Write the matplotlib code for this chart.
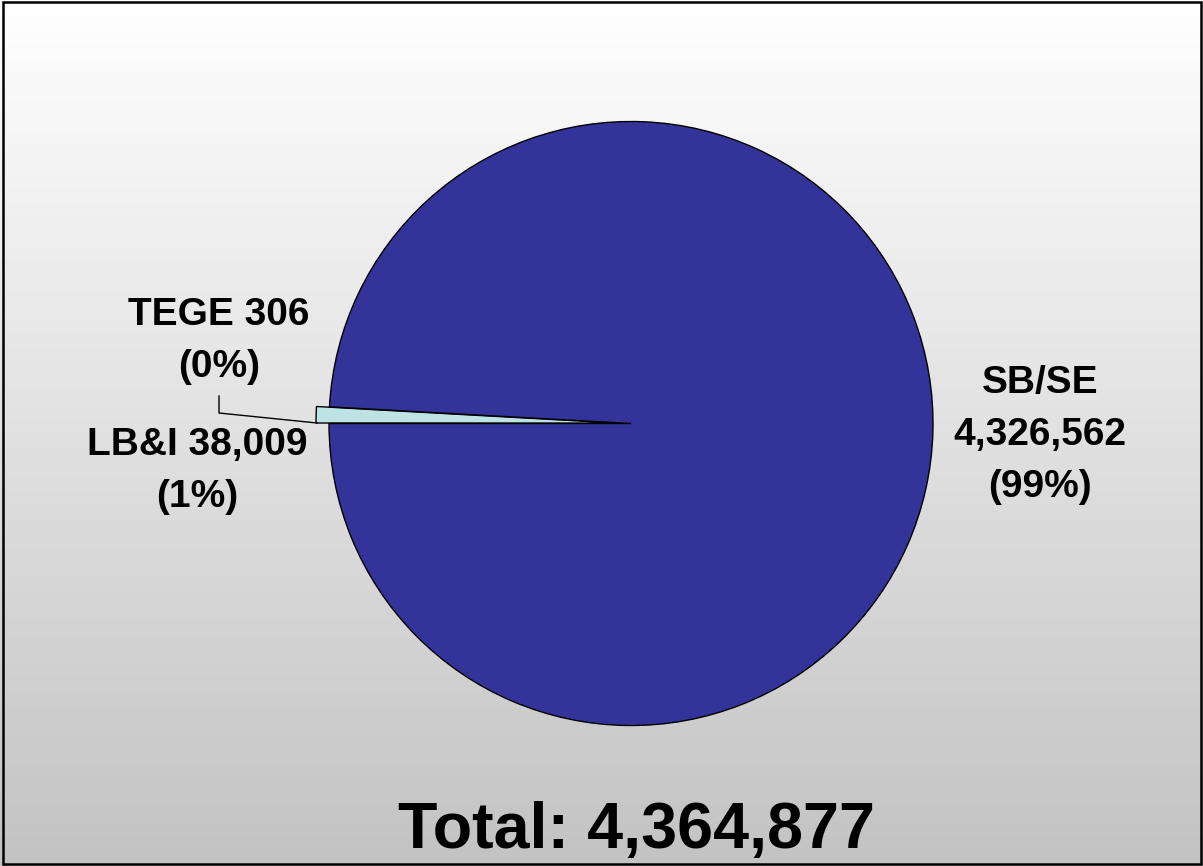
import numpy as np
import matplotlib.pyplot as plt
from matplotlib.colors import LinearSegmentedColormap
from matplotlib.patches import Rectangle

# divisions and their counts
divisions = ['TEGE', 'LB&I', 'SB/SE']
counts = [306, 38009, 4326562]
total = sum(counts)
pcts = [round(c / total * 100) for c in counts]

W, H = 1203, 866
R = 302


def py(y):
    # pixel row (from top) -> data y
    return H - y


fig = plt.figure(figsize=(W / 100, H / 100), dpi=100)
ax = fig.add_axes([0, 0, 1, 1])

# background gradient, white at top to grey at bottom
cmap = LinearSegmentedColormap.from_list('bg', ['#ffffff', '#c3c3c3'])
ax.imshow(np.linspace(0, 1, 256).reshape(-1, 1), cmap=cmap, extent=[0, W, 0, H],
          aspect='auto', origin='upper', zorder=0)

colors = ['#ffffff', '#bde3e4', '#333399']
# matplotlib offsets wedges in data units, so scale by the radius
explode = [0.0, 0.043 * R, 0.0]
ax.pie(counts, colors=colors, explode=explode, startangle=180, counterclock=False,
       center=(631, py(423.5)), radius=R,
       wedgeprops=dict(edgecolor='black', linewidth=1.0, zorder=2))

# leader line for the TEGE label
ax.plot([219, 219, 317], [py(396), py(413), py(423)], color='black', lw=1.0, zorder=3)

font = dict(family=['Liberation Sans', 'DejaVu Sans'], fontweight='bold', color='black')


def lines(x, baselines, texts, size=28):
    for b, t in zip(baselines, texts):
        ax.text(x, py(b), t, ha='center', va='baseline', fontsize=size, **font)


lines(219, [325, 377], [f'{divisions[0]} {counts[0]:,}', f'({pcts[0]}%)'])
lines(197, [455, 507], [f'{divisions[1]} {counts[1]:,}', f'({pcts[1]}%)'])
lines(1040, [393, 445, 497], [divisions[2], f'{counts[2]:,}', f'({pcts[2]}%)'])
lines(636, [848], [f'Total: {total:,}'], size=46.5)

# outer frame
ax.add_patch(Rectangle((3, py(864)), 1198, 862, fill=False, edgecolor='black', lw=1.8, zorder=5))

ax.set_xlim(0, W)
ax.set_ylim(0, H)
ax.axis('off')

fig.savefig('out.png', dpi=100)
